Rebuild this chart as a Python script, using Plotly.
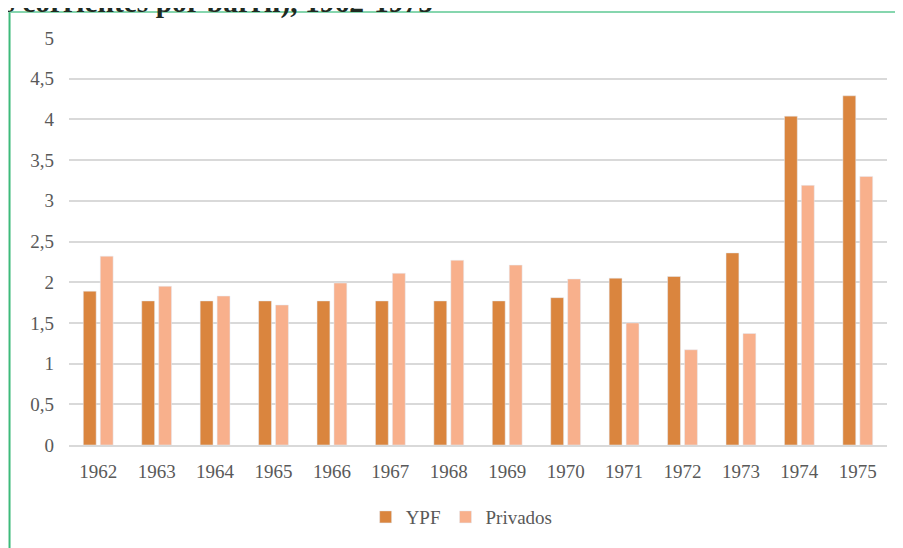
import plotly.graph_objects as go

years = ["1962", "1963", "1964", "1965", "1966", "1967", "1968",
         "1969", "1970", "1971", "1972", "1973", "1974", "1975"]
ypf = [1.89, 1.77, 1.77, 1.77, 1.77, 1.77, 1.77,
       1.77, 1.81, 2.05, 2.07, 2.36, 4.04, 4.29]
privados = [2.32, 1.95, 1.83, 1.72, 1.99, 2.11, 2.27,
            2.21, 2.04, 1.50, 1.17, 1.37, 3.19, 3.30]

YPF_COLOR = "#DA853E"
PRIV_COLOR = "#F8B08C"
TICK_COLOR = "#595959"
GRID_COLOR = "#D9D9D9"

fig = go.Figure()
fig.add_trace(go.Bar(x=years, y=ypf, name="YPF", marker_color=YPF_COLOR))
fig.add_trace(go.Bar(x=years, y=privados, name="Privados", marker_color=PRIV_COLOR))

# the page body adds 8px, so plot area lands at x 69-887, y 38-445
fig.update_layout(
    width=903,
    height=548,
    margin=dict(l=61, r=24, t=30, b=111, autoexpand=False),
    paper_bgcolor="white",
    plot_bgcolor="white",
    separators=", ",
    barmode="group",
    bargap=0.42,
    bargroupgap=0.24,
    font=dict(family="Liberation Serif", size=19, color=TICK_COLOR),
    legend=dict(
        orientation="h",
        x=0.48, xanchor="center",
        y=-0.177, yanchor="middle",
        font=dict(size=19, color=TICK_COLOR),
        itemwidth=30,
    ),
    showlegend=True,
)

fig.update_xaxes(
    showgrid=False,
    showline=True,
    linecolor=GRID_COLOR,
    linewidth=1.5,
    ticks="",
    ticklabelstandoff=8,
)
fig.update_yaxes(
    range=[0, 5],
    dtick=0.5,
    showgrid=True,
    gridcolor=GRID_COLOR,
    gridwidth=1.5,
    zeroline=False,
    showline=False,
    ticks="",
    ticklabelstandoff=14,
)

# green frame of the surrounding box (extends beyond the picture)
fig.add_shape(type="line", xref="paper", yref="paper",
              x0=-0.0727, x1=-0.0727, y0=-0.3, y1=1.064,
              line=dict(color="#3DBA7A", width=2))
fig.add_shape(type="line", xref="paper", yref="paper",
              x0=-0.0727, x1=1.1, y0=1.064, y1=1.064,
              line=dict(color="#86D6AE", width=2))

# title, cut off by the top edge as in the source
fig.add_annotation(
    text="Precio del petróleo crudo (en dólares corrientes por barril), 1962-1975",
    xref="paper", yref="paper",
    x=(435 - 69) / 818, xanchor="right",
    y=(445 - 21) / 407, yanchor="bottom",
    showarrow=False,
    font=dict(family="Liberation Serif", size=29.5, color="#1F2A22", weight="bold"),
)

fig.write_html("out.html")
